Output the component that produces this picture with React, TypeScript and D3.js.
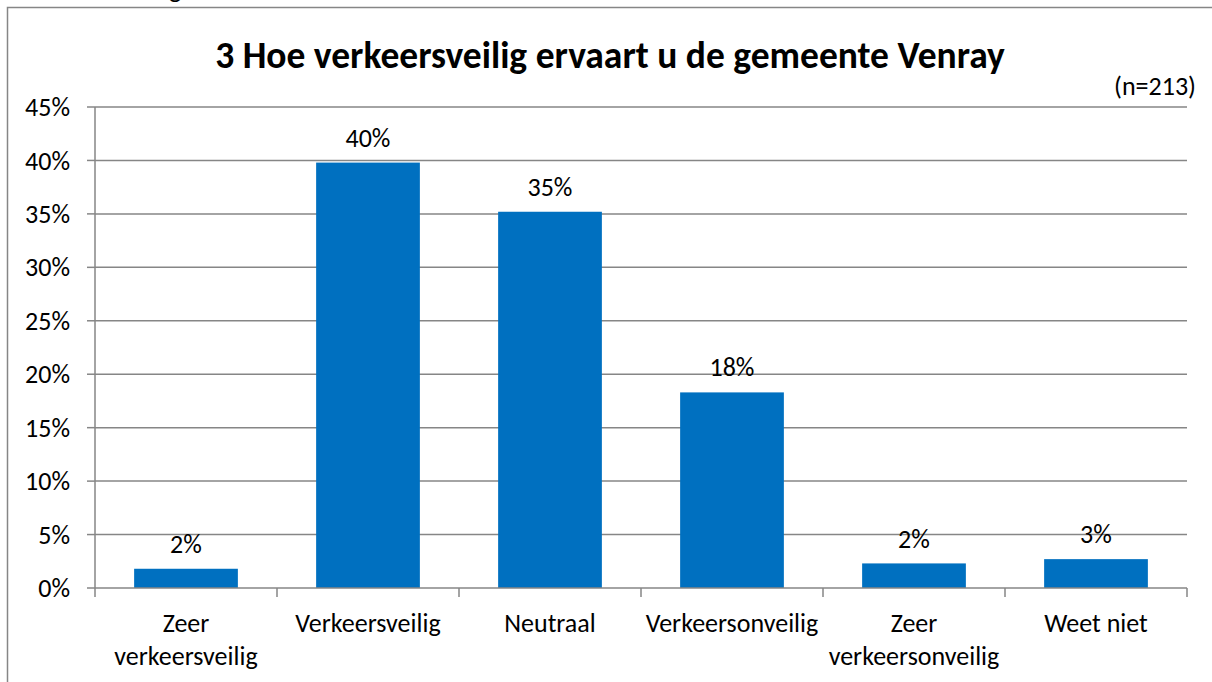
import React from "react";
import * as d3 from "d3";

const categories: string[][] = [
  ["Zeer", "verkeersveilig"],
  ["Verkeersveilig"],
  ["Neutraal"],
  ["Verkeersonveilig"],
  ["Zeer", "verkeersonveilig"],
  ["Weet niet"],
];
const values: number[] = [1.8, 39.8, 35.2, 18.3, 2.3, 2.7];
const valueLabels: string[] = ["2%", "40%", "35%", "18%", "2%", "3%"];
const yTicks: number[] = [0, 5, 10, 15, 20, 25, 30, 35, 40, 45];
const title = "3 Hoe verkeersveilig ervaart u de gemeente Venray";
const subtitle = "(n=213)";

const W = 1212;
const H = 682;
const FONT = "Carlito, Calibri, Lato, sans-serif";

export default function App() {
  const left = 95;
  const right = 1187;
  const top = 107;
  const bottom = 588;
  const x = d3
    .scaleBand<number>()
    .domain(categories.map((_, i) => i))
    .range([left, right])
    .paddingInner(0.43)
    .paddingOuter(0.215);
  const band = d3.scaleBand<number>().domain(categories.map((_, i) => i)).range([left, right]);
  const y = d3.scaleLinear().domain([0, 45]).range([bottom, top]);
  const grid = "#868686";

  return (
    <svg width={W} height={H} style={{ position: "absolute", left: 0, top: 0 }} fontFamily={FONT}>
      <rect x={0} y={0} width={W} height={H} fill="#fff" />
      <text x={169} y={-2} fontSize={26} fill="#000">g</text>
      <rect x={7.5} y={7.5} width={W} height={H} fill="none" stroke="#868686" strokeWidth={1.5} />
      <text x={610} y={55} dy="0.35em" textAnchor="middle" fontSize={37.5} fontWeight="bold" fill="#000">
        {title}
      </text>
      <text x={1196} y={86} dy="0.35em" textAnchor="end" fontSize={26} fill="#000">
        {subtitle}
      </text>
      {yTicks.map((t) => (
        <g key={t}>
          {t > 0 && (
            <line x1={left} x2={right} y1={y(t)} y2={y(t)} stroke={grid} strokeWidth={1.5} />
          )}
          <line x1={left - 8} x2={left} y1={y(t)} y2={y(t)} stroke={grid} strokeWidth={1.5} />
          <text x={70} y={y(t)} dy="0.35em" textAnchor="end" fontSize={26} fill="#000">
            {t}%
          </text>
        </g>
      ))}
      {values.map((v, i) => (
        <g key={i}>
          <rect
            x={x(i)}
            y={y(v)}
            width={x.bandwidth()}
            height={bottom - y(v)}
            fill="#0070C0"
          />
          <text
            x={(x(i) as number) + x.bandwidth() / 2}
            y={y(v) - 25}
            dy="0.35em"
            textAnchor="middle"
            fontSize={26}
            fill="#000"
          >
            {valueLabels[i]}
          </text>
        </g>
      ))}
      <line x1={left} x2={left} y1={top} y2={bottom} stroke={grid} strokeWidth={1.5} />
      <line x1={left} x2={right} y1={bottom} y2={bottom} stroke={grid} strokeWidth={1.5} />
      {d3.range(categories.length + 1).map((i) => {
        const xx = left + i * band.bandwidth();
        return <line key={i} x1={xx} x2={xx} y1={bottom} y2={bottom + 9} stroke={grid} strokeWidth={1.5} />;
      })}
      {categories.map((lines, i) => (
        <text
          key={i}
          x={(band(i) as number) + band.bandwidth() / 2}
          textAnchor="middle"
          fontSize={26}
          fill="#000"
        >
          {lines.map((l, j) => (
            <tspan key={j} x={(band(i) as number) + band.bandwidth() / 2} y={623 + j * 33} dy="0.35em">
              {l}
            </tspan>
          ))}
        </text>
      ))}
    </svg>
  );
}
